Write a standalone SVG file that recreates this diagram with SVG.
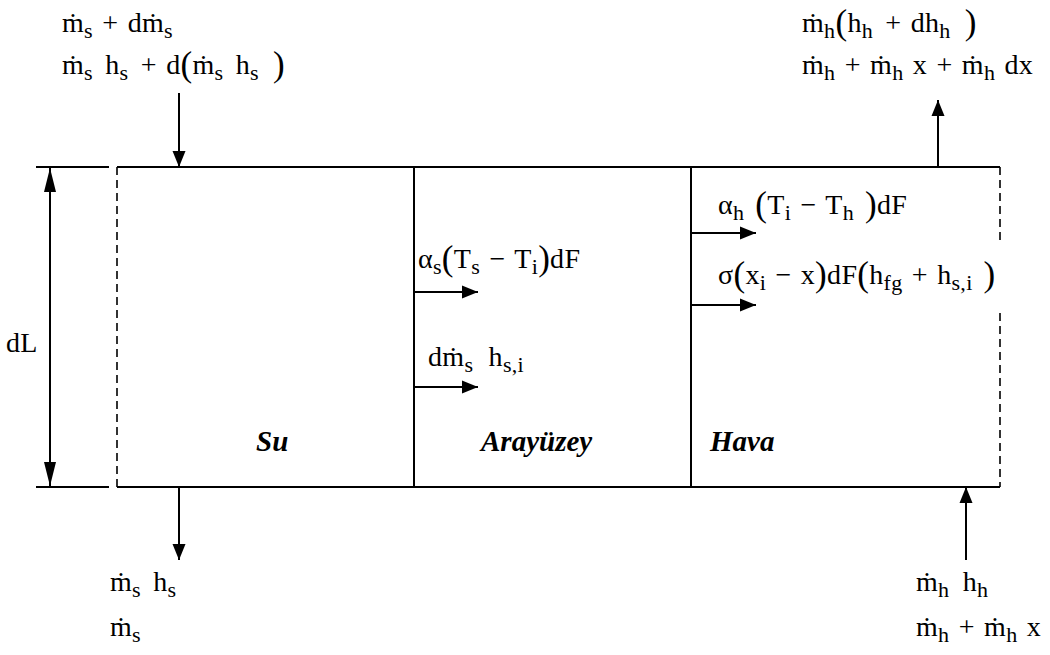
<svg xmlns="http://www.w3.org/2000/svg" width="1050" height="655" viewBox="0 0 1050 655">
<style>
.t{font-family:"Liberation Serif","Times New Roman",serif;font-size:28px;letter-spacing:0.3px;word-spacing:2px;fill:#000}
.s{font-size:22px}
.p{font-size:35px}
.b{font-family:"Liberation Serif","Times New Roman",serif;font-size:29px;font-weight:bold;font-style:italic;fill:#000}
.ln{stroke:#000;stroke-width:2;fill:none}
.dash{stroke:#000;stroke-width:1.6;fill:none;stroke-dasharray:8 5}
.ar{stroke:#000;stroke-width:2;fill:none;marker-end:url(#ah)}
</style>
<defs>
<marker id="ah" markerUnits="userSpaceOnUse" markerWidth="17" markerHeight="14" refX="16" refY="7" orient="auto">
<path d="M0,0.5 L16,7 L0,13.5 Z" fill="#000"/>
</marker>
<marker id="ahs" markerUnits="userSpaceOnUse" markerWidth="25" markerHeight="14" refX="24" refY="7" orient="auto-start-reverse">
<path d="M0,1 L24,7 L0,13 Z" fill="#000"/>
</marker>
</defs>
<rect width="1050" height="655" fill="#fff"/>

<g id="box">
<line class="ln" x1="117" y1="167" x2="1000" y2="167"/>
<line class="ln" x1="117" y1="487" x2="1000" y2="487"/>
<line class="dash" x1="117" y1="167" x2="117" y2="487"/>
<line class="dash" x1="1000" y1="167" x2="1000" y2="240"/>
<line class="dash" x1="1000" y1="313" x2="1000" y2="487"/>
</g>
<g id="su">
<text class="b" x="256" y="451">Su</text>
</g>
<g id="arayuzey">
<line class="ln" x1="414" y1="167" x2="414" y2="487"/>
<text class="b" x="481" y="451">Arayüzey</text>
</g>
<g id="hava">
<line class="ln" x1="691" y1="167" x2="691" y2="487"/>
<text class="b" x="710" y="451">Hava</text>
</g>

<g id="dimension">
<line class="ln" x1="36" y1="167" x2="109" y2="167"/>
<line class="ln" x1="36" y1="487" x2="109" y2="487"/>
<line x1="50" y1="168" x2="50" y2="486" stroke="#000" stroke-width="2" marker-start="url(#ahs)" marker-end="url(#ahs)"/>
<text class="t" x="6" y="352">dL</text>
</g>

<g id="connectors">
<line class="ar" x1="179" y1="93" x2="179" y2="167"/>
<line class="ar" x1="938" y1="167" x2="938" y2="100"/>
<line class="ar" x1="179" y1="487" x2="179" y2="560"/>
<line class="ar" x1="966" y1="560" x2="966" y2="487"/>
<line class="ar" x1="414" y1="292" x2="478" y2="292"/>
<line class="ar" x1="414" y1="387" x2="478" y2="387"/>
<line class="ar" x1="691" y1="233" x2="756" y2="233"/>
<line class="ar" x1="691" y1="305" x2="756" y2="305"/>
</g>

<g id="labels-top-left">
<text class="t" x="62" y="32">ṁ<tspan class="s" dy="6">s</tspan><tspan dy="-6"> + dṁ</tspan><tspan class="s" dy="6">s</tspan></text>
<text class="t" x="62" y="74">ṁ<tspan class="s" dy="6">s</tspan><tspan dy="-6" dx="3"> h</tspan><tspan class="s" dy="6">s</tspan><tspan dy="-6" dx="3"> + d</tspan><tspan class="p" dy="2">(</tspan><tspan dy="-2">ṁ</tspan><tspan class="s" dy="6">s</tspan><tspan dy="-6" dx="3"> h</tspan><tspan class="s" dy="6">s</tspan><tspan class="p" dy="-4" dx="3"> )</tspan></text>
</g>

<g id="labels-top-right">
<text class="t" x="802" y="32">ṁ<tspan class="s" dy="6">h</tspan><tspan class="p" dy="-4">(</tspan><tspan dy="-2">h</tspan><tspan class="s" dy="6">h</tspan><tspan dy="-6" dx="3"> + dh</tspan><tspan class="s" dy="6">h</tspan><tspan class="p" dy="-4" dx="3"> )</tspan></text>
<text class="t" x="802" y="74">ṁ<tspan class="s" dy="6">h</tspan><tspan dy="-6"> + ṁ</tspan><tspan class="s" dy="6">h</tspan><tspan dy="-6"> x + ṁ</tspan><tspan class="s" dy="6">h</tspan><tspan dy="-6"> dx</tspan></text>
</g>

<g id="labels-interface">
<text class="t" x="418" y="268">α<tspan class="s" dy="6">s</tspan><tspan class="p" dy="-4">(</tspan><tspan dy="-2">T</tspan><tspan class="s" dy="6">s</tspan><tspan dy="-6"> − T</tspan><tspan class="s" dy="6">i</tspan><tspan class="p" dy="-4">)</tspan><tspan dy="-2">dF</tspan></text>
<text class="t" x="428" y="366">dṁ<tspan class="s" dy="6">s</tspan><tspan dy="-6" dx="6"> h</tspan><tspan class="s" dy="6">s,i</tspan></text>
</g>

<g id="labels-air">
<text class="t" x="718" y="214">α<tspan class="s" dy="6">h</tspan><tspan class="p" dy="-4"> (</tspan><tspan dy="-2">T</tspan><tspan class="s" dy="6">i</tspan><tspan dy="-6"> − T</tspan><tspan class="s" dy="6">h</tspan><tspan class="p" dy="-4"> )</tspan><tspan dy="-2">dF</tspan></text>
<text class="t" x="718" y="284">σ<tspan class="p" dy="2">(</tspan><tspan dy="-2">x</tspan><tspan class="s" dy="6">i</tspan><tspan dy="-6"> − x</tspan><tspan class="p" dy="2">)</tspan><tspan dy="-2">dF</tspan><tspan class="p" dy="2">(</tspan><tspan dy="-2">h</tspan><tspan class="s" dy="6">fg</tspan><tspan dy="-6"> + h</tspan><tspan class="s" dy="6">s,i</tspan><tspan class="p" dy="-4"> )</tspan></text>
</g>

<g id="labels-bottom">
<text class="t" x="110" y="591">ṁ<tspan class="s" dy="6">s</tspan><tspan dy="-6" dx="3"> h</tspan><tspan class="s" dy="6">s</tspan></text>
<text class="t" x="110" y="636">ṁ<tspan class="s" dy="6">s</tspan></text>
<text class="t" x="916" y="591">ṁ<tspan class="s" dy="6">h</tspan><tspan dy="-6" dx="4"> h</tspan><tspan class="s" dy="6">h</tspan></text>
<text class="t" x="916" y="636">ṁ<tspan class="s" dy="6">h</tspan><tspan dy="-6"> + ṁ</tspan><tspan class="s" dy="6">h</tspan><tspan dy="-6"> x</tspan></text>
</g>
</svg>
